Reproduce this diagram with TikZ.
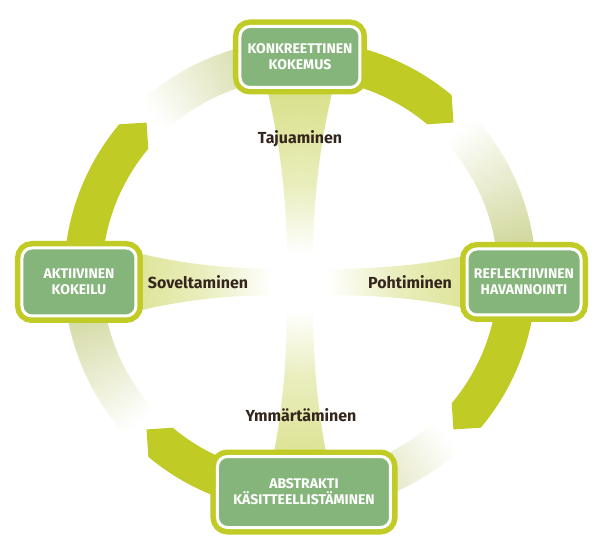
\documentclass[tikz,border=0pt]{standalone}
\usepackage{fontspec}
\setmainfont{Fira Sans}
\definecolor{ringc}{RGB}{192,203,38}
\definecolor{palec}{RGB}{210,216,158}
\definecolor{beamc}{RGB}{214,221,128}
\definecolor{beamm}{RGB}{234,238,190}
\definecolor{boxc}{RGB}{134,181,123}
\definecolor{labc}{RGB}{52,38,28}
\pgfdeclareradialshading{glow}{\pgfpoint{0bp}{0bp}}{color(0bp)=(white); color(3bp)=(white); color(10bp)=(beamm); color(22bp)=(beamc); color(50bp)=(beamc)}
\tikzset{
  kbox/.style={rounded corners=10pt, fill=boxc, draw=white, line width=3pt,
    preaction={draw=ringc, line width=14pt}, text=white, align=center,
    inner sep=0pt, font=\fontsize{14}{16}\selectfont\bfseries},
  lab/.style={text=labc, inner sep=0pt, font=\fontsize{16}{18}\selectfont\bfseries}
}
\begin{document}
\begin{tikzpicture}[x=1pt,y=1pt]
\useasboundingbox (-300,-270) rectangle (300,276);
% central cross of beams
\begin{scope}
\clip (-36,200) .. controls (-16,120) and (-13,60) .. (-13,7)
  .. controls (-60,7) and (-120,10) .. (-180,28)
  -- (-180,-40)
  .. controls (-120,-22) and (-60,-19) .. (-13,-19)
  .. controls (-13,-70) and (-15,-130) .. (-31,-200)
  -- (31,-200)
  .. controls (15,-130) and (13,-70) .. (13,-19)
  .. controls (60,-19) and (120,-20) .. (180,-36)
  -- (180,24)
  .. controls (120,8) and (60,7) .. (13,7)
  .. controls (13,60) and (16,120) .. (36,200)
  -- cycle;
\shade[shading=glow] (0,-6) circle (240);
\end{scope}
% ring: solid arrows and faded segments
\foreach \s in {90,0,-90,-180}{
  \pgfmathsetmacro{\m}{\s-45}
  \fill[ringc] (\s:236) arc[start angle=\s, end angle=\m+5, radius=236]
    -- (\m:217) -- ({\m+5}:198) arc[start angle=\m+5, end angle=\s, radius=198] -- cycle;
  \foreach \i in {0,...,43}{
    \pgfmathsetmacro{\a}{\m-2-\i}
    \pgfmathsetmacro{\b}{\a-1.4}
    \pgfmathtruncatemacro{\p}{min(100,\i*100/34)}
    \fill[palec!\p!white] (\a:236) arc[start angle=\a, end angle=\b, radius=236]
      -- (\b:198) arc[start angle=\b, end angle=\a, radius=198] -- cycle;
  }
}
% boxes
\node[kbox, minimum width=120pt, minimum height=61pt] (ke) at (0,219) {KONKREETTINEN\\KOKEMUS};
\node[kbox, minimum width=114pt, minimum height=66pt] (rh) at (224,-6) {REFLEKTIIVINEN\\HAVANNOINTI};
\node[kbox, minimum width=173pt, minimum height=71pt] (ak) at (4,-216) {ABSTRAKTI\\KÄSITTEELLISTÄMINEN};
\node[kbox, minimum width=114pt, minimum height=68pt] (ako) at (-221,-6) {AKTIIVINEN\\KOKEILU};
% labels
\node[lab, anchor=base] (taj) at (0,132) {Tajuaminen};
\node[lab, anchor=base] (sov) at (-102,-13) {Soveltaminen};
\node[lab, anchor=base] (poh) at (110,-13) {Pohtiminen};
\node[lab, anchor=base] (ymm) at (1,-145) {Ymmärtäminen};
\end{tikzpicture}
\end{document}
